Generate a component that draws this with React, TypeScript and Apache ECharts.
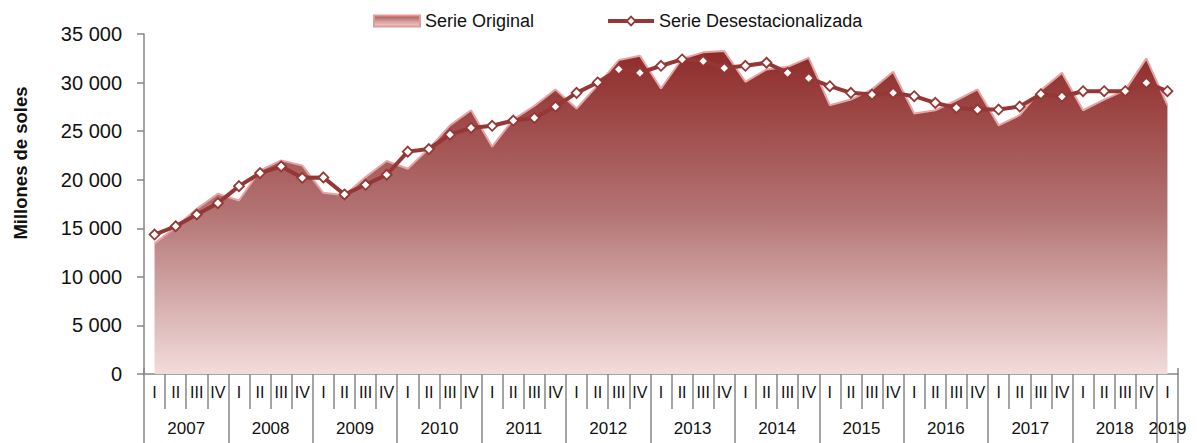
import React, { useEffect, useRef } from 'react';
import * as echarts from 'echarts';

const years = ['2007', '2008', '2009', '2010', '2011', '2012', '2013', '2014', '2015', '2016', '2017', '2018', '2019'];
const quarterLabels = ['I', 'II', 'III', 'IV'];

const serieOriginal = [
  13450, 15100, 17000, 18550, 17860, 20960, 21990, 21470, 18650, 18400, 20270, 21920,
  21130, 23200, 25600, 27150, 23400, 26200, 27600, 29290, 27320, 29730, 32310, 32760,
  29390, 32450, 33110, 33240, 30080, 31350, 31620, 32550, 27670, 28250, 29300, 31110,
  26810, 27150, 28180, 29290, 25600, 26640, 29220, 31000, 27150, 28250, 29220, 32490,
  27670,
];

const serieDesestacionalizada = [
  14350, 15210, 16420, 17580, 19340, 20680, 21370, 20200, 20240, 18480, 19480, 20510,
  22890, 23160, 24640, 25330, 25550, 26090, 26360, 27530, 28940, 30010, 31350, 31000,
  31730, 32380, 32210, 31490, 31730, 32040, 31000, 30460, 29630, 28940, 28770, 28940,
  28600, 27910, 27390, 27220, 27220, 27530, 28800, 28560, 29110, 29110, 29110, 29970,
  29110,
];

const yTicks = { min: 0, max: 35000, interval: 5000 };
const yAxisTitle = 'Millones de soles';

// category keys "year-quarter"
const categories: string[] = [];
years.forEach((y, yi) => {
  const n = yi === years.length - 1 ? 1 : 4;
  for (let q = 0; q < n; q++) categories.push(y + '-' + quarterLabels[q]);
});

// half-quarter grid for year labels (boundaryGap false: index i at i/2 quarters)
const halfCount = categories.length * 2 + 1;
const halfKeys: string[] = Array.from({ length: halfCount }, (_, i) => 'h' + i);
const yearLabelAt = (i: number): string => {
  const totalQ = categories.length;
  for (let yi = 0; yi < years.length; yi++) {
    const startQ = yi * 4;
    const nQ = Math.min(4, totalQ - startQ);
    if (nQ <= 0) break;
    if (i === startQ * 2 + nQ) return years[yi];
  }
  return '';
};
const isYearBoundary = (i: number): boolean => i === halfCount - 1 || i % 8 === 0;

const FONT = '"Liberation Sans", Arial, sans-serif';
const AXIS_GRAY = '#868686';
const TXT = '#111111';

const fmt = (v: number) => String(v).replace(/\B(?=(\d{3})+(?!\d))/g, ' ');

export default function App() {
  const ref = useRef<HTMLDivElement>(null);
  useEffect(() => {
    document.body.style.margin = '0';
    if (!ref.current) return;
    const chart = echarts.init(ref.current, null, { renderer: 'svg' });
    const areaGradient = new echarts.graphic.LinearGradient(0, 0, 0, 1, [
      { offset: 0, color: '#8E2B29' },
      { offset: 0.5, color: '#B37373' },
      { offset: 1, color: '#F2DCDB' },
    ]);
    const legendGradient = new echarts.graphic.LinearGradient(0, 0, 0, 1, [
      { offset: 0, color: '#A85454' },
      { offset: 0.5, color: '#D49A9A' },
      { offset: 1, color: '#EFCFCF' },
    ]);
    chart.setOption({
      animation: false,
      textStyle: { fontFamily: FONT },
      legend: {
        top: 7,
        left: 368,
        itemGap: 72,
        itemWidth: 46,
        itemHeight: 11,
        textStyle: { fontSize: 18, color: TXT, fontFamily: FONT },
        data: [
          {
            name: 'Serie Original',
            icon: 'rect',
            itemStyle: { color: legendGradient, borderColor: '#E29A9A', borderWidth: 2 },
          },
          {
            name: 'Serie Desestacionalizada',
            lineStyle: { width: 4, color: '#953735' },
            itemStyle: { color: '#FFFFFF', borderColor: '#953735', borderWidth: 1.8 },
          },
        ],
      },
      graphic: [
        {
          type: 'text',
          x: 20,
          y: 163,
          rotation: Math.PI / 2,
          style: {
            text: yAxisTitle,
            fontSize: 18.5,
            fontWeight: 'bold',
            fill: TXT,
            fontFamily: FONT,
            align: 'center',
            verticalAlign: 'middle',
          },
        },
      ],
      grid: { left: 144, right: 19, top: 34, bottom: 69 },
      xAxis: [
        {
          type: 'category',
          data: categories,
          boundaryGap: true,
          position: 'bottom',
          axisLine: { show: true, lineStyle: { color: AXIS_GRAY, width: 1.5 } },
          axisTick: { show: true, interval: 0, length: 35, lineStyle: { color: AXIS_GRAY, width: 1.5 } },
          axisLabel: {
            interval: 0,
            margin: 10,
            fontSize: 16,
            color: TXT,
            fontFamily: FONT,
            formatter: (v: string) => v.split('-')[1],
          },
        },
        {
          type: 'category',
          data: halfKeys,
          boundaryGap: false,
          position: 'bottom',
          offset: 35,
          axisLine: { show: false },
          axisTick: {
            show: true,
            interval: (i: number) => isYearBoundary(i),
            length: 36,
            lineStyle: { color: AXIS_GRAY, width: 1.5 },
          },
          axisLabel: {
            interval: 0,
            margin: 11,
            fontSize: 17,
            color: TXT,
            fontFamily: FONT,
            formatter: (_v: string, i: number) => yearLabelAt(i),
          },
        },
        {
          type: 'category',
          data: categories,
          boundaryGap: true,
          position: 'bottom',
          axisLine: { show: false },
          axisTick: { show: true, inside: true, interval: 0, length: 6, lineStyle: { color: AXIS_GRAY, width: 1.5 } },
          axisLabel: { show: false },
        },
      ],
      yAxis: {
        type: 'value',
        min: yTicks.min,
        max: yTicks.max,
        interval: yTicks.interval,
        axisLine: { show: true, lineStyle: { color: AXIS_GRAY, width: 1.5 } },
        axisTick: { show: true, length: 7, lineStyle: { color: AXIS_GRAY, width: 1.5 } },
        splitLine: { show: false },
        axisLabel: { fontSize: 20, margin: 22, color: TXT, fontFamily: FONT, formatter: (v: number) => fmt(v) },
      },
      series: [
        {
          name: 'Serie Original',
          type: 'line',
          xAxisIndex: 0,
          data: serieOriginal,
          symbol: 'none',
          lineStyle: { color: '#E6A4A4', width: 2 },
          itemStyle: { color: '#C07070' },
          areaStyle: { color: areaGradient, opacity: 1, origin: 'start' },
          z: 2,
        },
        {
          name: 'Serie Desestacionalizada',
          type: 'line',
          xAxisIndex: 0,
          data: serieDesestacionalizada,
          symbol: 'diamond',
          symbolSize: 10,
          showAllSymbol: true,
          lineStyle: { color: '#953735', width: 4 },
          itemStyle: { color: '#FFFFFF', borderColor: '#953735', borderWidth: 1.8 },
          z: 3,
        },
      ],
    });
    return () => chart.dispose();
  }, []);
  return <div ref={ref} style={{ width: 1197, height: 443 }} />;
}
